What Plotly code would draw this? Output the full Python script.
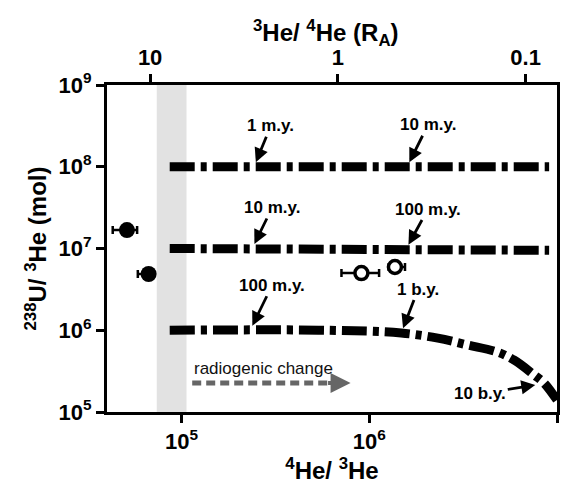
import math
import plotly.graph_objects as go

# ---------------- data ----------------
R_A = 1.47e-6  # atmospheric 3He/4He used for the top axis

x_ticks = [1e5, 1e6, 1e7]
x_ticktext = ["10<sup>5</sup>", "10<sup>6</sup>", "10<sup>7</sup>"]
y_ticks = [1e5, 1e6, 1e7, 1e8, 1e9]
y_ticktext = ["10<sup>5</sup>", "10<sup>6</sup>", "10<sup>7</sup>", "10<sup>8</sup>", "10<sup>9</sup>"]
top_ra = [10, 1, 0.1]
top_ticktext = ["10", "1", "0.1"]

band_range = [73800, 106300]  # grey band in 4He/3He

# evolution trajectories (4He/3He vs 238U/3He)
line_1e8_x = [86500, 9.08e6]
line_1e8_y = [1e8, 1e8]
line_1e7_x = [86500, 1.0e6, 3.0e6, 9.08e6]
line_1e7_y = [1.0e7, 1.0e7, 0.98e7, 0.95e7]
line_1e6_x = [86500, 6.07e5, 1.48e6, 2.32e6, 3.34e6, 4.82e6, 5.92e6, 7.55e6, 8.53e6, 1.0e7]
line_1e6_y = [1.0e6, 1.0e6, 9.25e5, 8.0e5, 6.6e5, 5.4e5, 4.3e5, 2.84e5, 2.26e5, 1.4e5]

# samples
filled_x = [51200, 66800]
filled_y = [1.68e7, 4.88e6]
filled_err_plus = [6800, 2000]
filled_err_minus = [8200, 8300]
open_x = [9.08e5, 1.37e6]
open_y = [5.0e6, 5.94e6]
open_err_plus = [2.2e5, 1.8e5]
open_err_minus = [1.97e5, 1.0e5]

# age labels: text, arrow tip x, arrow tip y
age_text = ["1 m.y.", "10 m.y.", "10 m.y.", "100 m.y.", "100 m.y.", "1 b.y."]
age_x = [2.43e5, 1.59e6, 2.38e5, 1.57e6, 2.32e5, 1.48e6]
age_y = [1e8, 1e8, 1e7, 0.985e7, 1e6, 9.25e5]
last_label = "10 b.y."
last_x = 7.66e6
last_y = 2.14e5

# radiogenic change arrow
radio_x = [1.14e5, 7.5e5]
radio_head_x = 7.95e5
radio_y = 2.26e5
radio_text_y = 3.36e5

# ---------------- figure ----------------
FONT = "Liberation Sans, Arial, sans-serif"
L = math.log10
fig = go.Figure()

fig.add_shape(type="rect", xref="x", yref="paper", x0=band_range[0], x1=band_range[1],
              y0=0, y1=1, fillcolor="#e2e2e2", line_width=0, layer="below")

dash = "25px,6px,6px,6px"
for xs, ys, shp in [(line_1e8_x, line_1e8_y, "linear"),
                    (line_1e7_x, line_1e7_y, "linear"),
                    (line_1e6_x, line_1e6_y, "spline")]:
    fig.add_trace(go.Scatter(x=xs, y=ys, mode="lines",
                             line=dict(color="black", width=9, dash=dash, shape=shp),
                             showlegend=False, hoverinfo="skip"))

fig.add_trace(go.Scatter(x=radio_x, y=[radio_y, radio_y], mode="lines",
                         line=dict(color="#666666", width=5, dash="9px,5px"),
                         showlegend=False, hoverinfo="skip"))

fig.add_trace(go.Scatter(x=filled_x, y=filled_y, mode="markers",
                         marker=dict(color="black", size=16),
                         error_x=dict(type="data", symmetric=False, array=filled_err_plus,
                                      arrayminus=filled_err_minus, color="black",
                                      thickness=2.5, width=4),
                         showlegend=False))
fig.add_trace(go.Scatter(x=open_x, y=open_y, mode="markers",
                         marker=dict(color="white", size=13, line=dict(color="black", width=3.5)),
                         error_x=dict(type="data", symmetric=False, array=open_err_plus,
                                      arrayminus=open_err_minus, color="black",
                                      thickness=2.5, width=4),
                         showlegend=False))

# invisible trace on top axis
fig.add_trace(go.Scatter(x=[1e5], y=[1e7], xaxis="x2", mode="markers",
                         marker=dict(opacity=0), showlegend=False, hoverinfo="skip"))

ann_font = dict(family=FONT, size=17, color="black", weight="bold")
offsets = [(17, -41), (21, -42), (20, -41), (22, -40), (22, -45), (17, -44)]
for t, x, y, (ax, ay) in zip(age_text, age_x, age_y, offsets):
    fig.add_annotation(x=L(x), y=L(y), xref="x", yref="y", text=t,
                       showarrow=True, ax=ax, ay=ay, arrowhead=2, arrowsize=1.0,
                       arrowwidth=2.8, arrowcolor="black", standoff=5, font=ann_font)
fig.add_annotation(x=L(last_x), y=L(last_y), xref="x", yref="y", text=last_label,
                   showarrow=True, ax=-55, ay=9, arrowhead=2, arrowsize=1.0,
                   arrowwidth=2.8, arrowcolor="black", standoff=0, font=ann_font)
fig.add_annotation(x=L(radio_head_x), y=L(radio_y), xref="x", yref="y", text="",
                   showarrow=True, ax=-24, ay=0, arrowhead=2, arrowsize=1.0,
                   arrowwidth=4, arrowcolor="#666666", standoff=0)
fig.add_annotation(x=L(radio_x[0]), y=L(radio_text_y), xref="x", yref="y", xanchor="left",
                   text="radiogenic change", showarrow=False,
                   font=dict(family=FONT, size=17, color="#111111"))

xr = [4.603, 7.0]
axis_font = dict(family=FONT, size=22, color="black", weight="bold")
title_font = dict(family=FONT, size=24, color="black", weight="bold")

# top axis title as a paper annotation
fig.add_annotation(x=0.486, y=1.16, xref="paper", yref="paper", xanchor="center", yanchor="middle",
                   text="<sup>3</sup>He/ <sup>4</sup>He (R<sub>A</sub>)", showarrow=False,
                   font=title_font)

fig.update_layout(
    width=564, height=481,
    margin=dict(l=99, r=12, t=77, b=77),
    plot_bgcolor="white", paper_bgcolor="white",
    xaxis=dict(type="log", range=xr, tickvals=x_ticks, ticktext=x_ticktext,
               ticks="outside", ticklen=8, tickwidth=3, tickcolor="black",
               showline=True, linewidth=3, linecolor="black", mirror=False,
               showgrid=False, zeroline=False, tickfont=axis_font,
               title=dict(text="<sup>4</sup>He/ <sup>3</sup>He", font=title_font, standoff=6)),
    xaxis2=dict(type="log", range=xr, overlaying="x", side="top", anchor="y",
                tickvals=[1 / (r * R_A) for r in top_ra], ticktext=top_ticktext,
                ticks="outside", ticklen=8, tickwidth=3, tickcolor="black",
                showline=True, linewidth=3, linecolor="black",
                showgrid=False, zeroline=False, tickfont=axis_font),
    yaxis=dict(type="log", range=[5, 9], tickvals=y_ticks, ticktext=y_ticktext,
               ticks="outside", ticklen=8, tickwidth=3, tickcolor="black",
               showline=True, linewidth=3, linecolor="black", mirror=True,
               showgrid=False, zeroline=False, tickfont=axis_font,
               title=dict(text="<sup>238</sup>U/ <sup>3</sup>He (mol)", font=title_font, standoff=6)),
)

fig.write_html("out.html")
